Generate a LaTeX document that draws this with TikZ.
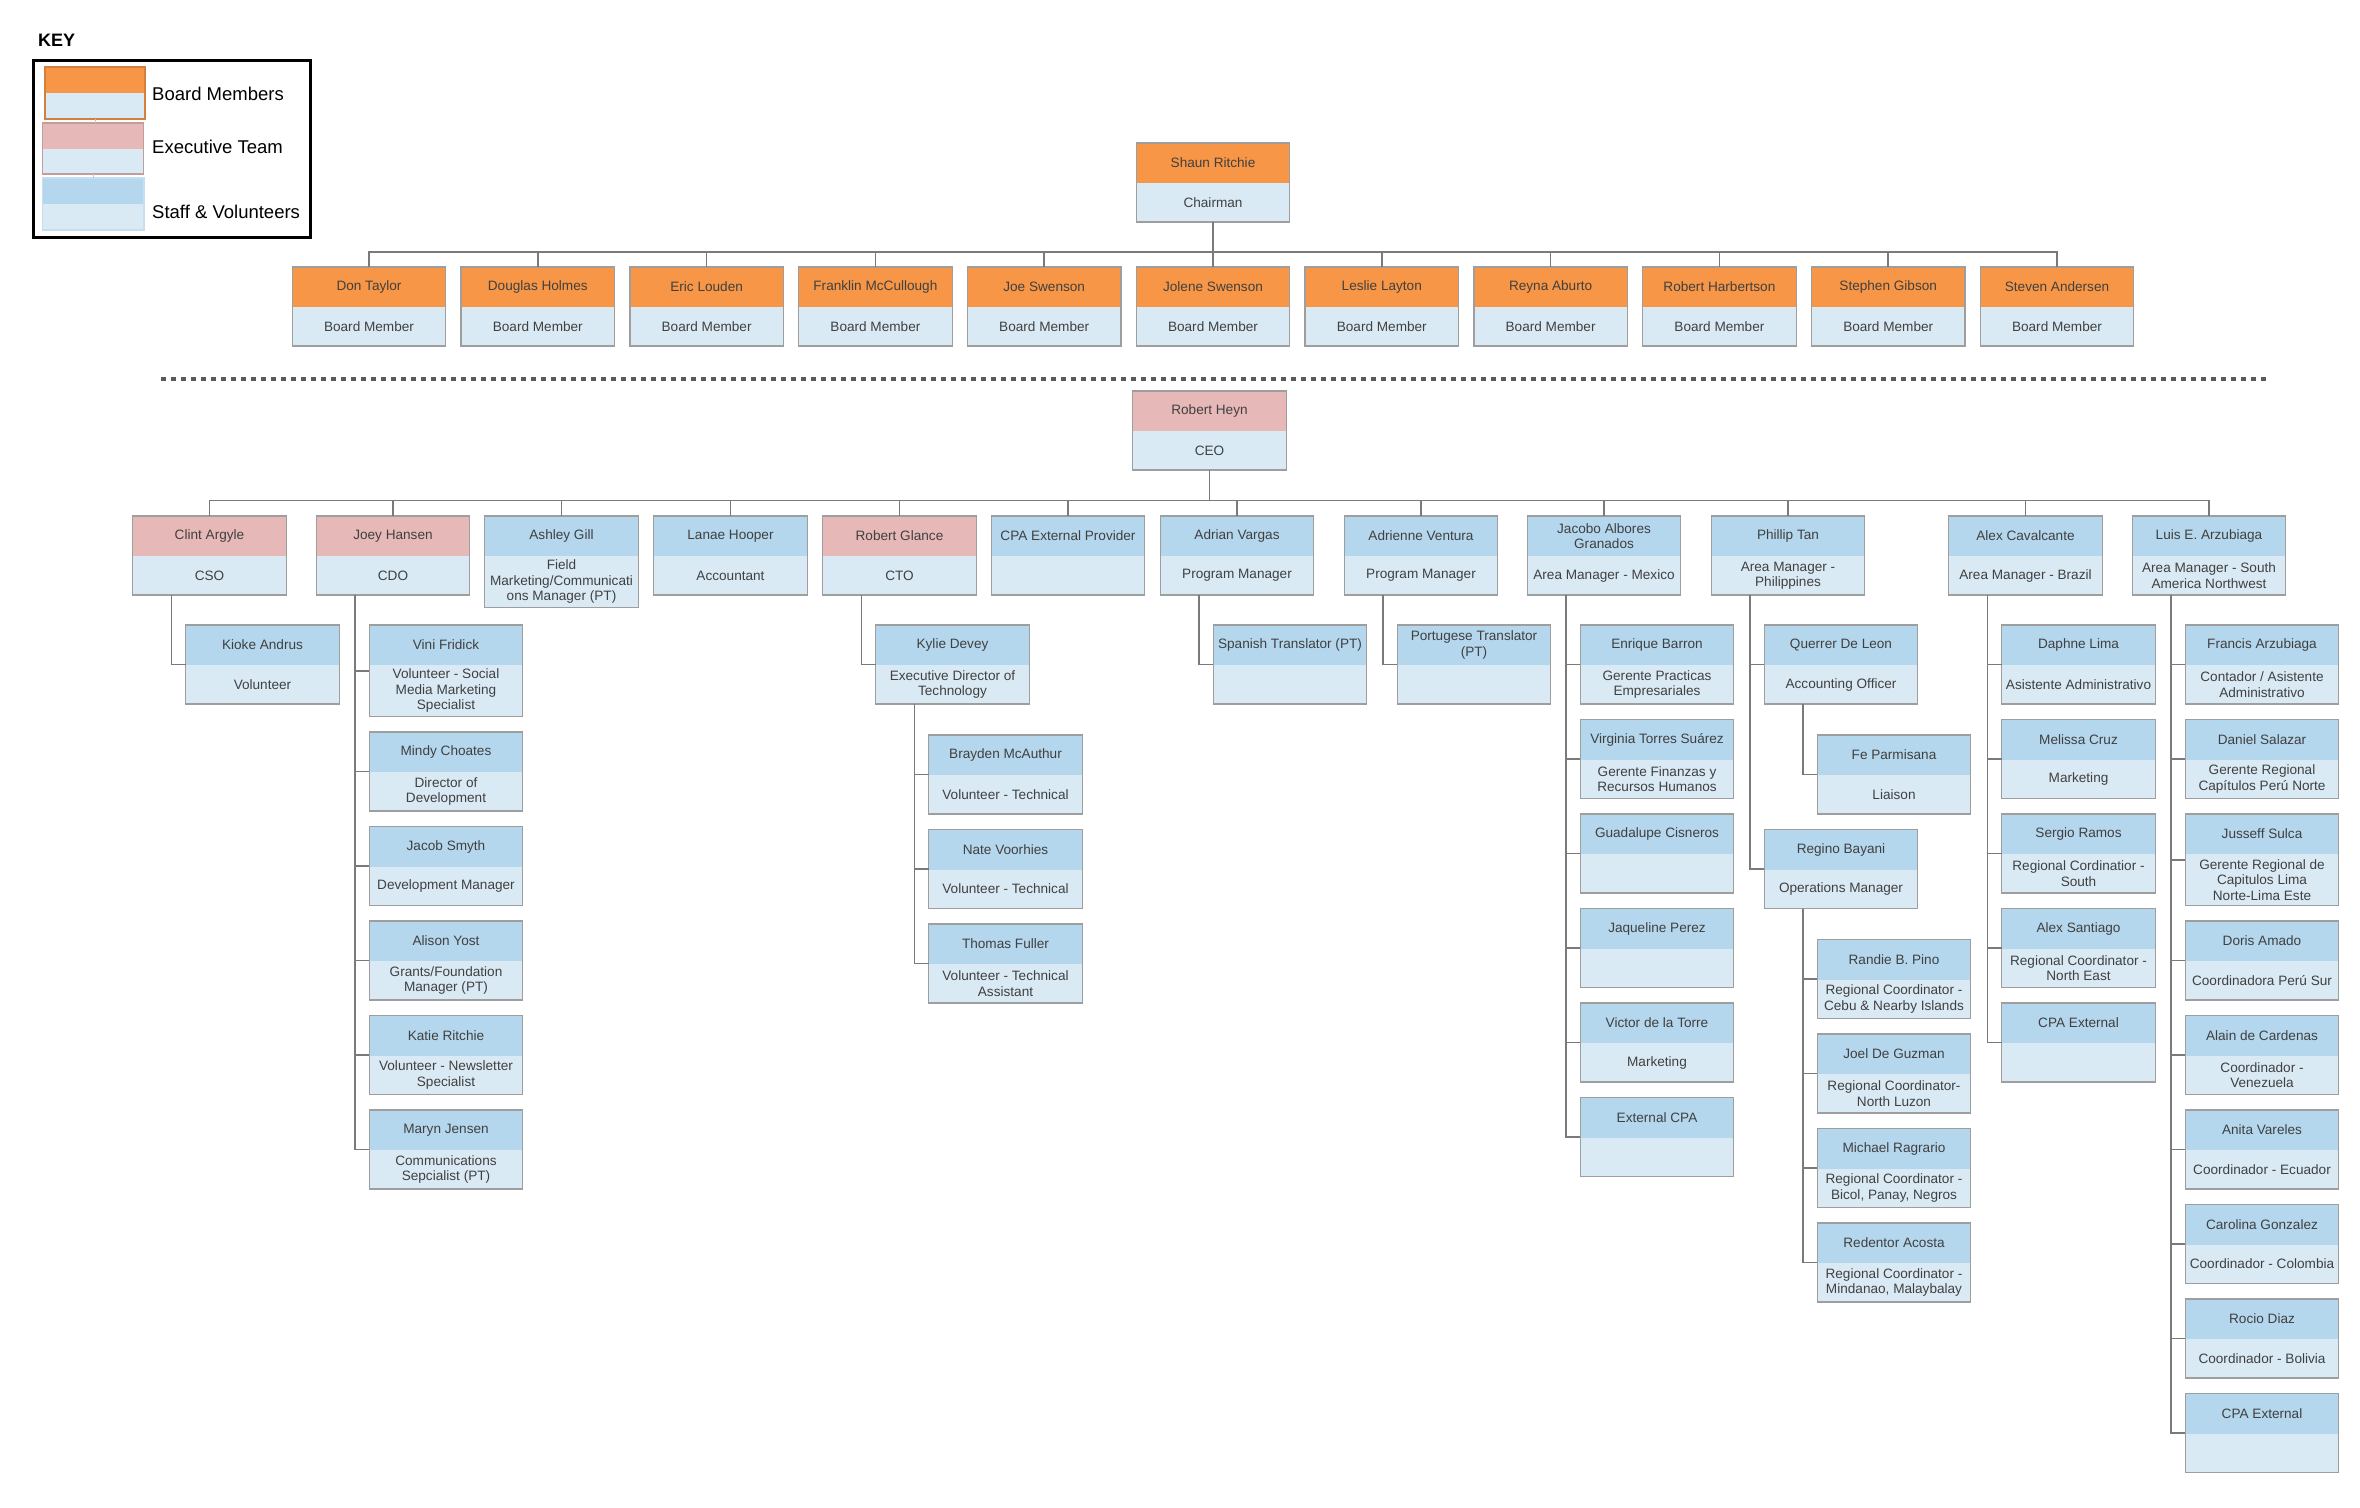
\documentclass[tikz,border=0pt]{standalone}
\usepackage{fontspec}
\setmainfont{Liberation Sans}
\usetikzlibrary{calc}
\definecolor{hOr}{HTML}{F79646}
\definecolor{hPk}{HTML}{E6B8B7}
\definecolor{hBl}{HTML}{B4D7ED}
\definecolor{bodyc}{HTML}{DAEAF5}
\definecolor{bordc}{HTML}{9E9E9E}
\definecolor{connc}{HTML}{7A7A7A}
\definecolor{txtc}{HTML}{404040}
\definecolor{dashc}{HTML}{5A5A5A}
\newcommand{\OB}[7]{%
  \node[orgbox, minimum height=#4pt] (#1) at (#2,#3+#4/2) {};
  \fill[#5] (#1.north west) rectangle ([yshift=-40pt]#1.north east);
  \draw[bord] (#1.north west) rectangle (#1.south east);
  \node[lbl] (#1-h) at ([yshift=-20pt]#1.north) {#6};
  \node[lbl] (#1-b) at ([yshift=-20pt-#4*0.5pt]#1.north) {#7};
}
\newcommand{\CK}[2]{\draw[conn] ([xshift=38.5pt]#1.south west) |- (#2.west);}
\newcommand{\BUS}[3]{\draw[conn] (#1.south) |- (#2 -| #3.north) -- (#3.north);}
\newcommand{\SW}[8]{%
  \node[rectangle, fill=bodyc, minimum width=#3pt, minimum height=#4pt, inner sep=0pt, outer sep=0pt] (#1) at #2 {};
  \fill[#5] (#1.north west) rectangle ([yshift=-#6pt]#1.north east);
  \draw[#7, line width=1.2pt] (#1.north west) rectangle (#1.south east);
}
\begin{document}
\begin{tikzpicture}[x=1pt,y=-1pt,
  orgbox/.style={rectangle, fill=bodyc, minimum width=153.5pt, inner sep=0pt, outer sep=0pt},
  bord/.style={draw=bordc, line width=1.3pt},
  lbl/.style={font=\fontsize{13.6}{15.5}\selectfont, text=txtc, align=center, inner sep=0pt},
  conn/.style={draw=connc, line width=1.5pt},
  keylbl/.style={font=\fontsize{18.5}{20}\selectfont, text=black, anchor=west, inner sep=0pt},
]
\useasboundingbox[fill=white] (0,0) rectangle (2360,1507);

% ---------- Legend ----------
\node[font=\bfseries\fontsize{18}{20}\selectfont, anchor=west, inner sep=0pt] (keyt) at (38,40) {KEY};
\node[draw=black, line width=3pt, minimum width=277pt, minimum height=177pt, inner sep=0pt] (keybox) at (171.5,148.5) {};
\SW{sw1}{(95,93)}{100}{52}{hOr}{26}{draw=hOr!85!black}{}
\SW{sw2}{(93,148.5)}{101}{51}{hPk}{26}{draw=hPk!85!black}{}
\SW{sw3}{(93.25,204)}{101.5}{52}{hBl}{26}{draw=hBl!80!white}{}
\draw[draw=bordc!60!white, line width=1pt] (sw1.south) -- (sw1.south |- sw2.north);
\draw[draw=bordc!60!white, line width=1pt] (sw2.south) -- (sw2.south |- sw3.north);
\node[keylbl] (k1) at (152,94) {Board Members};
\node[keylbl] (k2) at (152,147) {Executive Team};
\node[keylbl] (k3) at (152,212) {Staff \& Volunteers};

% ---------- Board ----------
\OB{shaun}{1213}{143}{79}{hOr}{Shaun Ritchie}{Chairman}
\OB{b0}{369}{267}{79}{hOr}{Don Taylor}{Board Member}
\OB{b1}{537.8}{267}{79}{hOr}{Douglas Holmes}{Board Member}
\OB{b2}{706.6}{267}{79}{hOr}{Eric Louden}{Board Member}
\OB{b3}{875.4}{267}{79}{hOr}{Franklin McCullough}{Board Member}
\OB{b4}{1044.2}{267}{79}{hOr}{Joe Swenson}{Board Member}
\OB{b5}{1213}{267}{79}{hOr}{Jolene Swenson}{Board Member}
\OB{b6}{1381.8}{267}{79}{hOr}{Leslie Layton}{Board Member}
\OB{b7}{1550.6}{267}{79}{hOr}{Reyna Aburto}{Board Member}
\OB{b8}{1719.4}{267}{79}{hOr}{Robert Harbertson}{Board Member}
\OB{b9}{1888.2}{267}{79}{hOr}{Stephen Gibson}{Board Member}
\OB{b10}{2057}{267}{79}{hOr}{Steven Andersen}{Board Member}
\coordinate (bus0) at (0,252);
\foreach \b in {b0,b1,b2,b3,b4,b5,b6,b7,b8,b9,b10} {\BUS{shaun}{bus0}{\b}}

% ---------- Separator ----------
\coordinate (dl) at (161,379);
\coordinate (dr) at (2270,379);
\draw[dashc, line width=4.5pt, dash pattern=on 4.5pt off 5.5pt] (dl) -- (dr);

% ---------- CEO and direct reports ----------
\OB{ceo}{1209.5}{391}{79}{hPk}{Robert Heyn}{CEO}
\OB{clint}{209.5}{516}{79}{hPk}{Clint Argyle}{CSO}
\OB{joey}{393}{516}{79}{hPk}{Joey Hansen}{CDO}
\OB{ashley}{561.5}{516}{91.5}{hBl}{Ashley Gill}{Field\\Marketing/Communicati\\ons Manager (PT)}
\OB{lanae}{730.5}{516}{79}{hBl}{Lanae Hooper}{Accountant}
\OB{glance}{899.5}{516}{79}{hPk}{Robert Glance}{CTO}
\OB{cpa}{1068}{516}{79}{hBl}{CPA External Provider}{}
\OB{adrian}{1237}{516}{79}{hBl}{Adrian Vargas}{Program Manager}
\OB{adrienne}{1421}{516}{79}{hBl}{Adrienne Ventura}{Program Manager}
\OB{jacobo}{1604}{516}{79}{hBl}{Jacobo Albores\\Granados}{Area Manager - Mexico}
\OB{phillip}{1788}{516}{79}{hBl}{Phillip Tan}{Area Manager -\\Philippines}
\OB{alex}{2025.5}{516}{79}{hBl}{Alex Cavalcante}{Area Manager - Brazil}
\OB{luis}{2209}{516}{79}{hBl}{Luis E. Arzubiaga}{Area Manager - South\\America Northwest}
\coordinate (bus1) at (0,500.5);
\foreach \c in {clint,joey,ashley,lanae,glance,cpa,adrian,adrienne,jacobo,phillip,alex,luis} {\BUS{ceo}{bus1}{\c}}

% ---------- Clint ----------
\OB{kioke}{262.5}{625}{79}{hBl}{Kioke Andrus}{Volunteer}
\CK{clint}{kioke}

% ---------- Joey ----------
\OB{vini}{446}{625}{91.5}{hBl}{Vini Fridick}{Volunteer - Social\\Media Marketing\\Specialist}
\OB{mindy}{446}{732}{79}{hBl}{Mindy Choates}{Director of\\Development}
\OB{jacob}{446}{826.5}{79}{hBl}{Jacob Smyth}{Development Manager}
\OB{alison}{446}{921}{79}{hBl}{Alison Yost}{Grants/Foundation\\Manager (PT)}
\OB{katie}{446}{1015.5}{79}{hBl}{Katie Ritchie}{Volunteer - Newsletter\\Specialist}
\OB{maryn}{446}{1110}{79}{hBl}{Maryn Jensen}{Communications\\Sepcialist (PT)}
\foreach \c in {vini,mindy,jacob,alison,katie,maryn} {\CK{joey}{\c}}

% ---------- Robert Glance ----------
\OB{kylie}{952.5}{625}{79}{hBl}{Kylie Devey}{Executive Director of\\Technology}
\CK{glance}{kylie}
\OB{brayden}{1005.5}{735}{79}{hBl}{Brayden McAuthur}{Volunteer - Technical}
\OB{nate}{1005.5}{829.5}{79}{hBl}{Nate Voorhies}{Volunteer - Technical}
\OB{thomas}{1005.5}{924}{79}{hBl}{Thomas Fuller}{Volunteer - Technical\\Assistant}
\foreach \c in {brayden,nate,thomas} {\CK{kylie}{\c}}

% ---------- Adrian / Adrienne ----------
\OB{spanish}{1290}{625}{79}{hBl}{Spanish Translator (PT)}{}
\CK{adrian}{spanish}
\OB{portug}{1474}{625}{79}{hBl}{Portugese Translator\\(PT)}{}
\CK{adrienne}{portug}

% ---------- Jacobo ----------
\OB{enrique}{1657}{625}{79}{hBl}{Enrique Barron}{Gerente Practicas\\Empresariales}
\OB{virginia}{1657}{719.5}{79}{hBl}{Virginia Torres Suárez}{Gerente Finanzas y\\Recursos Humanos}
\OB{guadalupe}{1657}{814}{79}{hBl}{Guadalupe Cisneros}{}
\OB{jaqueline}{1657}{908.5}{79}{hBl}{Jaqueline Perez}{}
\OB{victor}{1657}{1003}{79}{hBl}{Victor de la Torre}{Marketing}
\OB{extcpa}{1657}{1097.5}{79}{hBl}{External CPA}{}
\foreach \c in {enrique,virginia,guadalupe,jaqueline,victor,extcpa} {\CK{jacobo}{\c}}

% ---------- Phillip ----------
\OB{querrer}{1841}{625}{79}{hBl}{Querrer De Leon}{Accounting Officer}
\OB{fe}{1894}{735}{79}{hBl}{Fe Parmisana}{Liaison}
\CK{querrer}{fe}
\OB{regino}{1841}{829.5}{79}{hBl}{Regino Bayani}{Operations Manager}
\CK{phillip}{querrer}
\CK{phillip}{regino}
\OB{randie}{1894}{939.5}{79}{hBl}{Randie B. Pino}{Regional Coordinator -\\Cebu \& Nearby Islands}
\OB{joel}{1894}{1034}{79}{hBl}{Joel De Guzman}{Regional Coordinator-\\North Luzon}
\OB{michael}{1894}{1128.5}{79}{hBl}{Michael Ragrario}{Regional Coordinator -\\Bicol, Panay, Negros}
\OB{redentor}{1894}{1223}{79}{hBl}{Redentor Acosta}{Regional Coordinator -\\Mindanao, Malaybalay}
\foreach \c in {randie,joel,michael,redentor} {\CK{regino}{\c}}

% ---------- Alex ----------
\OB{daphne}{2078.5}{625}{79}{hBl}{Daphne Lima}{Asistente Administrativo}
\OB{melissa}{2078.5}{719.5}{79}{hBl}{Melissa Cruz}{Marketing}
\OB{sergio}{2078.5}{814}{79}{hBl}{Sergio Ramos}{Regional Cordinatior -\\South}
\OB{alexs}{2078.5}{908.5}{79}{hBl}{Alex Santiago}{Regional Coordinator -\\North East}
\OB{cpaext}{2078.5}{1003}{79}{hBl}{CPA External}{}
\foreach \c in {daphne,melissa,sergio,alexs,cpaext} {\CK{alex}{\c}}

% ---------- Luis ----------
\OB{francis}{2262}{625}{79}{hBl}{Francis Arzubiaga}{Contador / Asistente\\Administrativo}
\OB{daniel}{2262}{719.5}{79}{hBl}{Daniel Salazar}{Gerente Regional\\Capítulos Perú Norte}
\OB{jusseff}{2262}{814}{91.5}{hBl}{Jusseff Sulca}{Gerente Regional de\\Capitulos Lima\\Norte-Lima Este}
\OB{doris}{2262}{921}{79}{hBl}{Doris Amado}{Coordinadora Perú Sur}
\OB{alain}{2262}{1015.5}{79}{hBl}{Alain de Cardenas}{Coordinador -\\Venezuela}
\OB{anita}{2262}{1110}{79}{hBl}{Anita Vareles}{Coordinador - Ecuador}
\OB{carolina}{2262}{1204.5}{79}{hBl}{Carolina Gonzalez}{Coordinador - Colombia}
\OB{rocio}{2262}{1299}{79}{hBl}{Rocio Diaz}{Coordinador - Bolivia}
\OB{cpaext2}{2262}{1393.5}{79}{hBl}{CPA External}{}
\foreach \c in {francis,daniel,jusseff,doris,alain,anita,carolina,rocio,cpaext2} {\CK{luis}{\c}}
\end{tikzpicture}
\end{document}
